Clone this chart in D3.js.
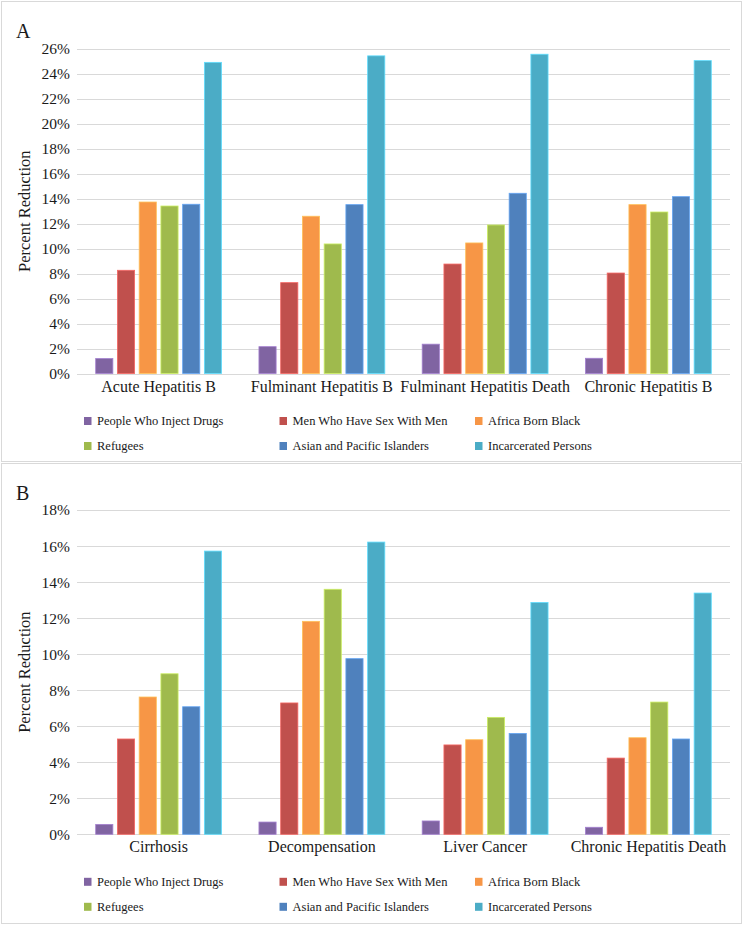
<!DOCTYPE html>
<html>
<head>
<meta charset="utf-8">
<script src="https://cdn.jsdelivr.net/npm/d3@7"></script>
<style>
  html, body { margin: 0; padding: 0; background: #fff; }
  svg text { font-family: "Liberation Serif", "DejaVu Serif", serif; fill: #1a1a1a; }
</style>
</head>
<body>
<svg id="chart" width="745" height="926"></svg>
<script>
// ---------- DATA ----------
const seriesNames = ["People Who Inject Drugs", "Men Who Have Sex With Men", "Africa Born Black",
                     "Refugees", "Asian and Pacific Islanders", "Incarcerated Persons"];
const seriesColors = ["#8064A2", "#C0504D", "#F79646", "#9FBA4D", "#4F81BD", "#4BACC6"];

// Panel A
const categoriesA = ["Acute Hepatitis B", "Fulminant Hepatitis B", "Fulminant Hepatitis Death", "Chronic Hepatitis B"];
const pwidA  = [1.2, 2.15, 2.35, 1.22];
const msmA   = [8.27, 7.28, 8.77, 8.05];
const abbA   = [13.74, 12.6, 10.46, 13.53];
const refA   = [13.42, 10.38, 11.9, 12.94];
const apiA   = [13.56, 13.53, 14.44, 14.17];
const incA   = [24.93, 25.45, 25.58, 25.07];
const ticksA = [0, 2, 4, 6, 8, 10, 12, 14, 16, 18, 20, 22, 24, 26];

// Panel B
const categoriesB = ["Cirrhosis", "Decompensation", "Liver Cancer", "Chronic Hepatitis Death"];
const pwidB  = [0.55, 0.68, 0.74, 0.39];
const msmB   = [5.29, 7.29, 4.96, 4.23];
const abbB   = [7.62, 11.82, 5.25, 5.36];
const refB   = [8.91, 13.6, 6.49, 7.34];
const apiB   = [7.08, 9.75, 5.6, 5.29];
const incB   = [15.72, 16.22, 12.87, 13.39];
const ticksB = [0, 2, 4, 6, 8, 10, 12, 14, 16, 18];

// ---------- DRAW ----------
const svg = d3.select("#chart");

const panels = [
  { label: "A", top: 1.5, height: 460, plotTop: 49, plotBottom: 373.5,
    categories: categoriesA, series: [pwidA, msmA, abbA, refA, apiA, incA], ticks: ticksA },
  { label: "B", top: 463.5, height: 460, plotTop: 510, plotBottom: 834.3,
    categories: categoriesB, series: [pwidB, msmB, abbB, refB, apiB, incB], ticks: ticksB }
];

const plotLeft = 77, plotRight = 730;

panels.forEach(p => {
  const g = svg.append("g");

  // panel border
  g.append("rect")
    .attr("x", 1.5).attr("y", p.top)
    .attr("width", 740).attr("height", p.height)
    .attr("fill", "none").attr("stroke", "#d9d9d9").attr("stroke-width", 1);

  // panel letter
  g.append("text")
    .attr("x", 16).attr("y", p.top + 36)
    .attr("font-size", 20)
    .text(p.label);

  const maxT = p.ticks[p.ticks.length - 1];
  const y = d3.scaleLinear().domain([0, maxT]).range([p.plotBottom, p.plotTop]);
  const x0 = d3.scaleBand().domain(p.categories).range([plotLeft, plotRight]).padding(0);
  const x1 = d3.scaleBand().domain(seriesNames).range([0, x0.bandwidth()])
    .paddingInner(0.21).paddingOuter(0.86);

  // gridlines
  g.append("g").selectAll("line")
    .data(p.ticks)
    .join("line")
    .attr("x1", plotLeft).attr("x2", plotRight)
    .attr("y1", d => Math.round(y(d)) + 0.5).attr("y2", d => Math.round(y(d)) + 0.5)
    .attr("stroke", "#d9d9d9").attr("stroke-width", 1);

  // y axis (labels only)
  const yAxis = d3.axisLeft(y).tickValues(p.ticks).tickFormat(d => d + "%").tickSize(0).tickPadding(0);
  const ya = g.append("g").attr("transform", `translate(${plotLeft - 7},0)`).call(yAxis);
  ya.select(".domain").remove();
  ya.selectAll("text")
    .attr("font-family", '"Liberation Serif", serif')
    .attr("font-size", 15.5).attr("fill", "#1a1a1a");

  // y title
  g.append("text")
    .attr("transform", `translate(${30},${(p.plotTop + p.plotBottom) / 2}) rotate(-90)`)
    .attr("text-anchor", "middle")
    .attr("font-size", 16.5)
    .text("Percent Reduction");

  // bars
  const rows = p.categories.map((c, i) => ({ cat: c, vals: p.series.map(s => s[i]) }));
  const groups = g.append("g").selectAll("g")
    .data(rows)
    .join("g")
    .attr("transform", d => `translate(${x0(d.cat)},0)`);
  groups.selectAll("rect")
    .data(d => d.vals.map((v, k) => ({ name: seriesNames[k], v, color: seriesColors[k] })))
    .join("rect")
    .attr("x", d => x1(d.name))
    .attr("width", x1.bandwidth())
    .attr("y", d => y(d.v))
    .attr("height", d => y(0) - y(d.v))
    .attr("fill", d => d.color)
    .attr("stroke", d => d3.color(d.color).brighter(0.7))
    .attr("stroke-width", 0.8);

  // x axis labels
  const xAxis = d3.axisBottom(x0).tickSize(0).tickPadding(0);
  const xa = g.append("g").attr("transform", `translate(0,${p.plotBottom})`).call(xAxis);
  xa.select(".domain").remove();
  xa.selectAll("text")
    .attr("font-family", '"Liberation Serif", serif')
    .attr("font-size", 16).attr("fill", "#1a1a1a")
    .attr("dy", null).attr("y", 18);

  // legend
  const legX = [84, 279.5, 475];
  const legY = [p.plotBottom + 47.5, p.plotBottom + 72.5];
  const leg = g.append("g").selectAll("g")
    .data(seriesNames)
    .join("g")
    .attr("transform", (d, i) => `translate(${legX[i % 3]},${legY[Math.floor(i / 3)]})`);
  leg.append("rect")
    .attr("x", 0).attr("y", -4).attr("width", 7.5).attr("height", 8)
    .attr("fill", (d, i) => seriesColors[i]);
  leg.append("text")
    .attr("x", 13).attr("y", 4.3)
    .attr("font-size", 12.5)
    .text(d => d);
});
</script>
</body>
</html>
